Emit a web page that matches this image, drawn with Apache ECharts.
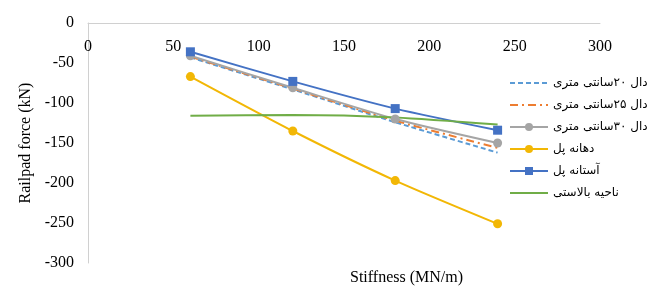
<!DOCTYPE html>
<html><head><meta charset="utf-8">
<script src="https://cdn.jsdelivr.net/npm/echarts@6/dist/echarts.min.js"></script>
<style>html,body{margin:0;padding:0;background:#fff}#c{width:654px;height:291px}</style>
</head><body><div id="c"></div>
<script>
const stiffness = [60, 120, 180, 240];
const slab20 = [-43, -83, -124, -162];
const slab25 = [-42, -82, -122, -156];
const slab30 = [-41, -81, -120, -150];
const bridgeSpan = [-67, -135, -197, -251];
const abutment = [-36, -73, -107, -134];
const ballast = [-116, -115, -118, -127];
const names = ['دال ۲۰سانتی متری','دال ۲۵سانتی متری','دال ۳۰سانتی متری','دهانه پل','آستانه پل','ناحیه بالاستی'];
const xTicks = [0, 50, 100, 150, 200, 250, 300];
const yTicks = [0, -50, -100, -150, -200, -250, -300];

const pts = a => stiffness.map((x,i)=>[x,a[i]]);
const font = "'Liberation Serif', 'DejaVu Serif', serif";
const chart = echarts.init(document.getElementById('c'));
function mk(name, data, color, opts){
  return Object.assign({type:'line', name, data: pts(data), smooth:0.25,
    lineStyle:{color, width:2}, itemStyle:{color}, symbol:'none', symbolSize:9}, opts||{});
}
const hidden = {opacity:0};
chart.setOption({
  animation:false,
  grid:{left:88, right:54, top:23, bottom:28},
  xAxis:{type:'value', position:'top', min:xTicks[0], max:xTicks[xTicks.length-1], interval:50,
    axisLine:{show:true, lineStyle:{color:'#d0d0d0', width:1}}, axisTick:{show:false},
    splitLine:{show:false},
    axisLabel:{inside:true, margin:16, color:'#000', fontFamily:font, fontSize:16}},
  yAxis:{type:'value', min:yTicks[yTicks.length-1], max:yTicks[0], interval:50,
    axisLine:{show:true, lineStyle:{color:'#d0d0d0', width:1}}, axisTick:{show:false},
    splitLine:{show:false},
    axisLabel:{margin:14, color:'#000', fontFamily:font, fontSize:16},
    name:'Railpad force (kN)', nameLocation:'middle', nameGap:52, nameRotate:90,
    nameTextStyle:{color:'#000', fontFamily:font, fontSize:16}},
  graphic:[{type:'text', left:350, top:270, style:{text:'Stiffness (MN/m)', fill:'#000', font:"16px 'Liberation Serif', serif"}}],
  legend:{orient:'vertical', left:504, top:72, itemGap:10, itemWidth:38, itemHeight:10,
    textStyle:{fontFamily:"'DejaVu Sans', sans-serif", fontSize:12, color:'#000'},
    data:[
      {name:names[0], itemStyle:hidden},
      {name:names[1], itemStyle:hidden},
      {name:names[2]},
      {name:names[3]},
      {name:names[4]},
      {name:names[5], itemStyle:hidden}
    ]},
  series:[
    mk(names[0], slab20, '#5B9BD5', {lineStyle:{color:'#5B9BD5', width:2, type:[5,3]}}),
    mk(names[1], slab25, '#ED7D31', {lineStyle:{color:'#ED7D31', width:2, type:[8,4,2,4]}}),
    mk(names[2], slab30, '#A5A5A5', {symbol:'circle'}),
    mk(names[3], bridgeSpan, '#F2B705', {symbol:'circle'}),
    mk(names[4], abutment, '#4472C4', {symbol:'rect'}),
    mk(names[5], ballast, '#70AD47')
  ]
});
</script></body></html>
